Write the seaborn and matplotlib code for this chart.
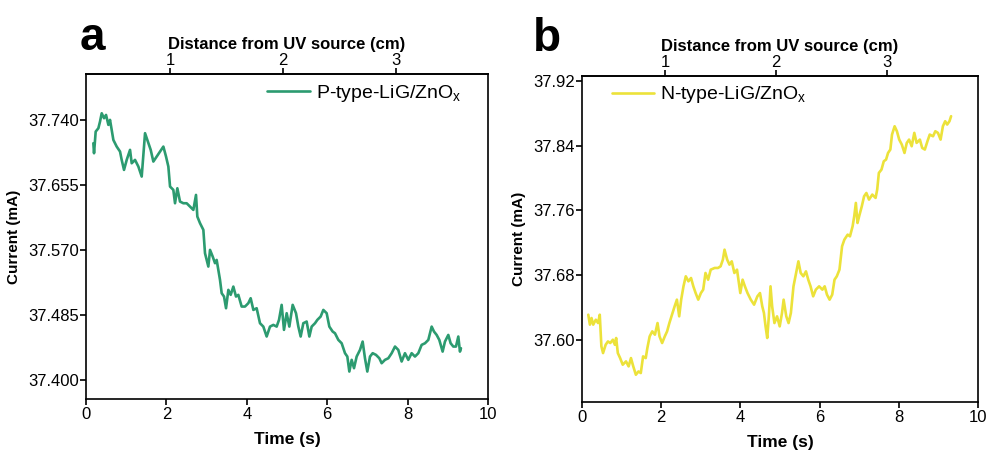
import numpy as np
import pandas as pd
import matplotlib
matplotlib.use("Agg")
import matplotlib.pyplot as plt
import seaborn as sns

# P-type trace (panel a): time (s) and current (mA)
p_time = [0.182, 0.199, 0.240, 0.307, 0.348, 0.390, 0.448, 0.498, 0.556, 0.597,
          0.680, 0.763, 0.846, 0.887, 0.945, 1.012, 1.095, 1.136, 1.219, 1.302,
          1.385, 1.468, 1.551, 1.609, 1.675, 1.758, 1.841, 1.924, 1.990, 2.048,
          2.090, 2.172, 2.214, 2.272, 2.338, 2.421, 2.504, 2.587, 2.670, 2.736,
          2.769, 2.836, 2.919, 2.960, 3.043, 3.085, 3.151, 3.209, 3.250, 3.292,
          3.333, 3.375, 3.433, 3.483, 3.541, 3.599, 3.665, 3.731, 3.789, 3.872,
          3.955, 4.038, 4.096, 4.163, 4.245, 4.328, 4.411, 4.494, 4.577, 4.660,
          4.743, 4.801, 4.867, 4.925, 4.992, 5.058, 5.141, 5.224, 5.282, 5.340,
          5.406, 5.489, 5.556, 5.614, 5.697, 5.755, 5.837, 5.904, 5.987, 6.053,
          6.136, 6.194, 6.277, 6.360, 6.443, 6.501, 6.551, 6.609, 6.667, 6.733,
          6.816, 6.882, 6.940, 6.998, 7.065, 7.131, 7.214, 7.297, 7.355, 7.438,
          7.521, 7.604, 7.687, 7.769, 7.852, 7.935, 8.018, 8.101, 8.184, 8.267,
          8.350, 8.433, 8.516, 8.599, 8.657, 8.723, 8.789, 8.872, 8.930, 9.013,
          9.071, 9.138, 9.204, 9.262, 9.303, 9.328]
p_current = [37.7095, 37.6964, 37.7247, 37.7291, 37.7378, 37.7487, 37.7422, 37.7465, 37.7335, 37.7400,
             37.7138, 37.7051, 37.6986, 37.6877, 37.6746, 37.6877, 37.7008, 37.6833, 37.6877, 37.6790,
             37.6659, 37.7226, 37.7095, 37.7008, 37.6855, 37.6921, 37.6986, 37.7051, 37.6921, 37.6790,
             37.6528, 37.6485, 37.6310, 37.6506, 37.6332, 37.6310, 37.6310, 37.6267, 37.6223, 37.6419,
             37.6136, 37.6049, 37.5962, 37.5656, 37.5482, 37.5700, 37.5613, 37.5526, 37.5569, 37.5438,
             37.5308, 37.5133, 37.5090, 37.4937, 37.5177, 37.5112, 37.5220, 37.5090, 37.5112, 37.4959,
             37.4959, 37.5003, 37.5068, 37.4915, 37.4937, 37.4741, 37.4697, 37.4567, 37.4697, 37.4719,
             37.4697, 37.4785, 37.4981, 37.4654, 37.4872, 37.4697, 37.4981, 37.4872, 37.4697, 37.4567,
             37.4741, 37.4763, 37.4567, 37.4697, 37.4741, 37.4785, 37.4828, 37.4915, 37.4872, 37.4697,
             37.4632, 37.4610, 37.4523, 37.4479, 37.4349, 37.4305, 37.4109, 37.4262, 37.4153, 37.4305,
             37.4392, 37.4501, 37.4283, 37.4109, 37.4305, 37.4349, 37.4327, 37.4283, 37.4218, 37.4262,
             37.4283, 37.4349, 37.4436, 37.4392, 37.4240, 37.4349, 37.4262, 37.4349, 37.4305, 37.4349,
             37.4458, 37.4479, 37.4523, 37.4697, 37.4632, 37.4588, 37.4523, 37.4370, 37.4501, 37.4588,
             37.4479, 37.4436, 37.4436, 37.4567, 37.4370, 37.4414]

# N-type trace (panel b)
n_time = [0.158, 0.199, 0.240, 0.282, 0.348, 0.406, 0.448, 0.489, 0.531, 0.597,
          0.655, 0.713, 0.779, 0.829, 0.862, 0.904, 0.962, 1.028, 1.111, 1.177,
          1.236, 1.294, 1.360, 1.426, 1.484, 1.542, 1.609, 1.650, 1.708, 1.774,
          1.841, 1.907, 1.957, 2.023, 2.090, 2.148, 2.206, 2.272, 2.338, 2.396,
          2.454, 2.504, 2.562, 2.620, 2.687, 2.753, 2.811, 2.869, 2.935, 3.002,
          3.060, 3.118, 3.184, 3.250, 3.350, 3.433, 3.499, 3.557, 3.599, 3.665,
          3.723, 3.781, 3.847, 3.914, 3.997, 4.055, 4.113, 4.179, 4.262, 4.345,
          4.428, 4.494, 4.552, 4.594, 4.635, 4.677, 4.718, 4.760, 4.801, 4.859,
          4.925, 4.992, 5.050, 5.091, 5.158, 5.216, 5.274, 5.340, 5.406, 5.464,
          5.522, 5.589, 5.655, 5.713, 5.771, 5.837, 5.904, 5.987, 6.070, 6.128,
          6.186, 6.252, 6.318, 6.376, 6.434, 6.501, 6.567, 6.625, 6.708, 6.766,
          6.833, 6.874, 6.915, 6.957, 6.998, 7.065, 7.123, 7.181, 7.247, 7.330,
          7.413, 7.454, 7.496, 7.562, 7.620, 7.678, 7.728, 7.786, 7.828, 7.894,
          7.952, 8.010, 8.076, 8.143, 8.201, 8.259, 8.325, 8.391, 8.449, 8.532,
          8.590, 8.657, 8.723, 8.781, 8.864, 8.922, 8.988, 9.055, 9.113, 9.171,
          9.221, 9.279, 9.320]
n_current = [37.6309, 37.6186, 37.6268, 37.6186, 37.6247, 37.6206, 37.6309, 37.5918, 37.5835, 37.5938,
             37.5979, 37.5959, 37.6000, 37.5938, 37.6021, 37.5835, 37.5773, 37.5691, 37.5732, 37.5670,
             37.5773, 37.5670, 37.5567, 37.5608, 37.5588, 37.5794, 37.5773, 37.5897, 37.6041, 37.6103,
             37.6062, 37.6206, 37.6041, 37.5959, 37.6041, 37.6103, 37.6206, 37.6309, 37.6412, 37.6495,
             37.6289, 37.6495, 37.6660, 37.6784, 37.6722, 37.6763, 37.6660, 37.6577, 37.6495, 37.6577,
             37.6619, 37.6825, 37.6742, 37.6866, 37.6887, 37.6887, 37.6907, 37.6990, 37.7113, 37.6990,
             37.6928, 37.6969, 37.6825, 37.6866, 37.6577, 37.6742, 37.6660, 37.6577, 37.6495, 37.6433,
             37.6536, 37.6577, 37.6412, 37.6330, 37.6165, 37.6021, 37.6289, 37.6660, 37.6412, 37.6206,
             37.6289, 37.6165, 37.6330, 37.6495, 37.6289, 37.6206, 37.6330, 37.6660, 37.6825, 37.6969,
             37.6825, 37.6784, 37.6845, 37.6742, 37.6660, 37.6536, 37.6619, 37.6660, 37.6619, 37.6660,
             37.6557, 37.6495, 37.6557, 37.6742, 37.6784, 37.6866, 37.7155, 37.7237, 37.7299, 37.7278,
             37.7402, 37.7526, 37.7691, 37.7443, 37.7526, 37.7649, 37.7773, 37.7814, 37.7732, 37.7794,
             37.7753, 37.7856, 37.8062, 37.8103, 37.8206, 37.8227, 37.8309, 37.8351, 37.8536, 37.8639,
             37.8577, 37.8474, 37.8412, 37.8309, 37.8433, 37.8474, 37.8392, 37.8557, 37.8433, 37.8474,
             37.8371, 37.8351, 37.8454, 37.8536, 37.8515, 37.8577, 37.8557, 37.8474, 37.8639, 37.8701,
             37.8660, 37.8701, 37.8763]

p_yticks = [37.400, 37.485, 37.570, 37.655, 37.740]
n_yticks = [37.60, 37.68, 37.76, 37.84, 37.92]
x_ticks = [0, 2, 4, 6, 8, 10]
dist_ticks = [1, 2, 3]

sns.set_style("ticks")
plt.rcParams['font.family'] = ['Liberation Sans', 'DejaVu Sans']
plt.rcParams['mathtext.default'] = 'regular'
plt.rcParams['axes.linewidth'] = 1.2
for key in ['text.color', 'axes.labelcolor', 'xtick.color', 'ytick.color',
            'axes.edgecolor']:
    plt.rcParams[key] = 'black'


# distance (cm) <-> time (s) for the top axis
def t2d(t):
    return (np.asarray(t) + 0.7) / 2.8


def d2t(d):
    return np.asarray(d) * 2.8 - 0.7


fig = plt.figure(figsize=(9.9, 4.53), dpi=100)
ax1 = fig.add_axes([0.0869, 0.1192, 0.406, 0.7174])
ax2 = fig.add_axes([0.5879, 0.1126, 0.400, 0.7196])

panels = [
    (ax1, p_time, p_current, '#2c9b70', 'P-type-LiG/ZnO$_x$', p_yticks, '%.3f',
     (37.375, 37.800), (0.45, 0.94)),
    (ax2, n_time, n_current, '#ece23a', 'N-type-LiG/ZnO$_x$', n_yticks, '%.2f',
     (37.523, 37.926), (0.0746, 0.942)),
]

for ax, tt, cc, col, lab, yt, fmt, ylim, lpos in panels:
    df = pd.DataFrame({'Time': tt, 'Current': cc})
    sns.lineplot(data=df, x='Time', y='Current', ax=ax, color=col, lw=1.9,
                 label=lab, sort=False, estimator=None)
    ax.set_xlim(0, 10)
    ax.set_ylim(*ylim)
    ax.set_xticks(x_ticks)
    ax.set_yticks(yt)
    ax.yaxis.set_major_formatter(matplotlib.ticker.FormatStrFormatter(fmt))
    ax.tick_params(axis='both', direction='out', length=4, width=1.2,
                   labelsize=12, pad=2)
    ax.tick_params(axis='y', pad=1)
    ax.set_xlabel('Time (s)', fontsize=12.5, fontweight='bold', labelpad=7)
    ax.set_ylabel('Current (mA)', fontsize=11, fontweight='bold', labelpad=5)
    for s in ax.spines.values():
        s.set_visible(True)
        s.set_linewidth(1.2)

    sec = ax.secondary_xaxis('top', functions=(t2d, d2t))
    sec.set_xticks(dist_ticks)
    sec.tick_params(direction='out', length=4, width=1.2, labelsize=12, pad=0)
    sec.set_xlabel('Distance from UV source (cm)', fontsize=12,
                   fontweight='bold', labelpad=3)

    ax.legend(loc='center left', bbox_to_anchor=lpos, frameon=False,
              fontsize=14, borderaxespad=0, borderpad=0,
              handlelength=2.2, handletextpad=0.3)

fig.text(0.080, 0.89, 'a', fontsize=33, fontweight='bold')
fig.text(0.538, 0.888, 'b', fontsize=33, fontweight='bold')

fig.savefig('out.png', dpi=100)
